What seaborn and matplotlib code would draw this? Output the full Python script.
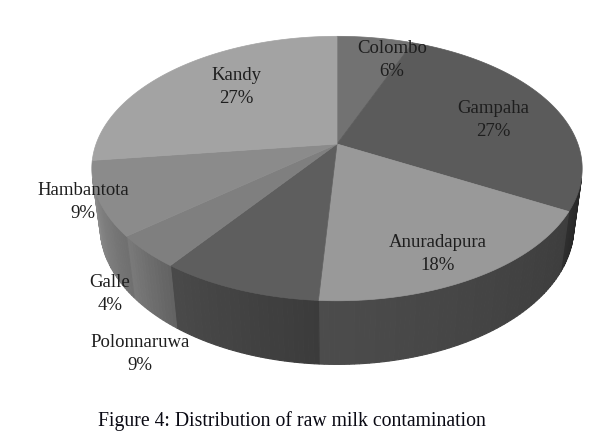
import numpy as np
import matplotlib
matplotlib.use("Agg")
import matplotlib.pyplot as plt
import seaborn as sns
from matplotlib.colors import to_rgb

sns.set_theme(style="white")
plt.rcParams['font.family'] = ['Liberation Serif', 'DejaVu Serif']

# data
districts = ['Colombo', 'Gampaha', 'Anuradapura', 'Polonnaruwa', 'Galle', 'Hambantota', 'Kandy']
shares = [6, 27, 18, 9, 4, 9, 27]

# greys for the top faces and the side walls
top_colors = ['#727272', '#5b5b5b', '#999999', '#5e5e5e', '#7f7f7f', '#8b8b8b', '#a3a3a3']
side_colors = ['#555555', '#2a2a2a', '#444444', '#424242', '#6e6e6e', '#7c7c7c', '#888888']

# label centres in pixel space (layout only)
label_xy = [(392, 60), (493, 120), (438, 254), (140, 354), (110, 294), (83, 202), (236, 87)]

# simple perspective camera for the 3d pie
tilt = np.deg2rad(58)
dist = 4.57
focal = 1101
depth = 0.29
cx, cy = 337, 144


def project(theta, r=1.0, h=0.0):
    u = r * np.cos(theta)
    v = r * np.sin(theta)
    yw = v * np.cos(tilt) - h * np.sin(tilt)
    zw = dist + v * np.sin(tilt) + h * np.cos(tilt)
    return cx + focal * u / zw, cy - focal * yw / zw


def shade(color, k):
    return tuple(min(1, c * k) for c in to_rgb(color))


fig = plt.figure(figsize=(5.92, 4.40), dpi=100)
ax = fig.add_axes([0, 0, 1, 1])
ax.set_xlim(0, 592)
ax.set_ylim(440, 0)
ax.axis('off')

total = float(sum(shares))
bounds = 90 - 360 * np.concatenate([[0], np.cumsum(shares)]) / total

# visible part of the wall (outward normal facing the camera)
vis = np.rad2deg(np.arcsin(-1 / (np.sin(tilt) * dist)))
vis_hi, vis_lo = vis, -180 - vis

# side walls, drawn as thin strips so they get a soft gradient
for i in range(len(shares)):
    a0, a1 = bounds[i], bounds[i + 1]
    hi, lo = min(a0, vis_hi), max(a1, vis_lo)
    if hi <= lo:
        continue
    n = max(2, int((hi - lo) / 1.0))
    steps = np.linspace(hi, lo, n + 1)
    for j in range(n):
        t = np.deg2rad(np.linspace(steps[j], steps[j + 1], 3))
        xt, yt = project(t)
        xb, yb = project(t[::-1], h=depth)
        frac = (hi - steps[j]) / max(hi - lo, 1e-6)
        col = shade(side_colors[i], 0.9 + 0.22 * frac)
        ax.fill(np.r_[xt, xb], np.r_[yt, yb], color=col, lw=0.8, ec=col)

# top faces
x0, y0 = project(0.0, r=0.0)
for i in range(len(shares)):
    a0, a1 = bounds[i], bounds[i + 1]
    t = np.deg2rad(np.linspace(a0, a1, 120))
    xs, ys = project(t)
    ax.fill(np.r_[x0, xs], np.r_[y0, ys], color=top_colors[i], lw=0.5, ec=top_colors[i])

# labels
for name, val, (lx, ly) in zip(districts, shares, label_xy):
    ax.text(lx, ly, f'{name}\n{val}%', ha='center', va='center', fontsize=13.5,
            color='#1e1e1e', linespacing=1.45)

fig.text(292 / 592, 1 - 421 / 440, 'Figure 4: Distribution of raw milk contamination',
         ha='center', va='center', fontsize=14.2, color='#0a0a14')

fig.savefig('out.png', dpi=100)
